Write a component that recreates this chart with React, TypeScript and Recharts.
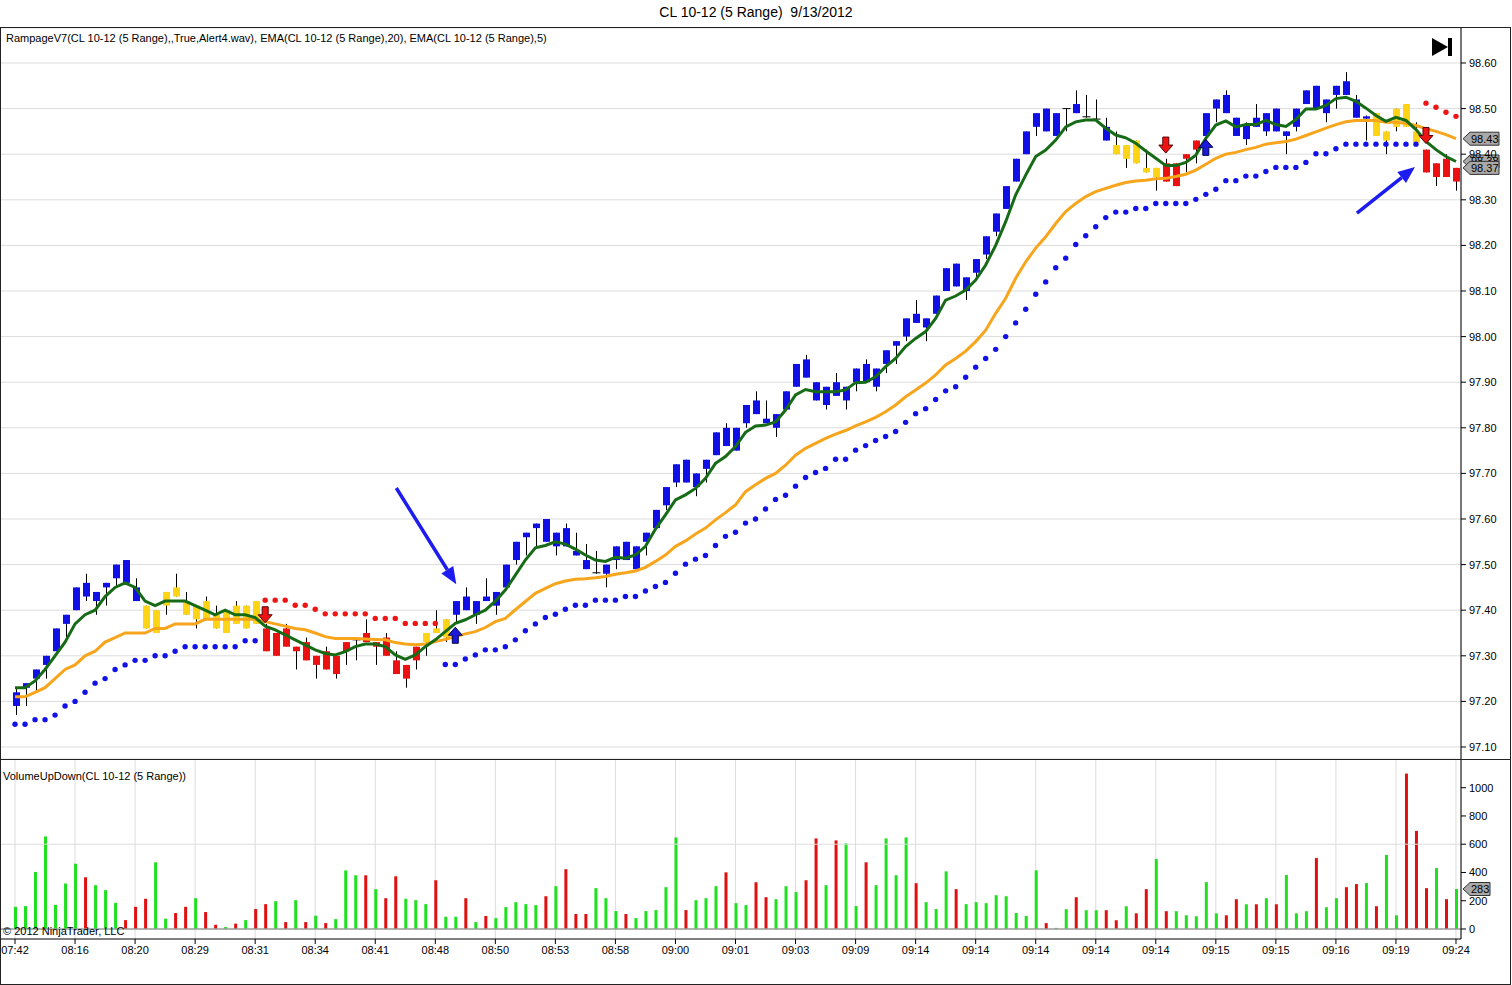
import React from 'react';
import {
  ComposedChart,
  Bar,
  Line,
  XAxis,
  YAxis,
  CartesianGrid,
  ReferenceLine,
  Cell,
} from 'recharts';

const FONT = '"Liberation Sans", Arial, sans-serif';

// time labels, one every 6 range bars
const timeLabels = [
  '07:42', '08:16', '08:20', '08:29', '08:31', '08:34', '08:41', '08:48', '08:50',
  '08:53', '08:58', '09:00', '09:01', '09:03', '09:09', '09:14', '09:14', '09:14',
  '09:14', '09:14', '09:15', '09:15', '09:16', '09:19', '09:24',
];

const priceTicks = [97.1, 97.2, 97.3, 97.4, 97.5, 97.6, 97.7, 97.8, 97.9, 98.0, 98.1, 98.2, 98.3, 98.4, 98.5, 98.6];
const volumeTicks = [0, 200, 400, 600, 800, 1000];

// 5-tick range bars (CL 10-12)
const barOpen = [
  97.19, 97.23, 97.25, 97.28, 97.31, 97.37, 97.40, 97.46, 97.42, 97.45,
  97.47, 97.51, 97.45, 97.41, 97.35, 97.41, 97.45, 97.42, 97.38, 97.42,
  97.39, 97.35, 97.41, 97.36, 97.42, 97.36, 97.30, 97.36, 97.31, 97.33,
  97.28, 97.31, 97.26, 97.31, 97.333, 97.35, 97.32, 97.34, 97.29, 97.25,
  97.29, 97.33, 97.36, 97.34, 97.39, 97.43, 97.39, 97.43, 97.41, 97.45,
  97.51, 97.56, 97.58, 97.60, 97.54, 97.58, 97.53, 97.51, 97.48, 97.48,
  97.51, 97.55, 97.49, 97.55, 97.58, 97.63, 97.68, 97.73, 97.67, 97.71,
  97.74, 97.80, 97.75, 97.81, 97.86, 97.82, 97.80, 97.84, 97.89, 97.95,
  97.90, 97.85, 97.90, 97.86, 97.90, 97.94, 97.89, 97.94, 97.98, 98.00,
  98.05, 98.02, 98.05, 98.10, 98.16, 98.10, 98.14, 98.18, 98.23, 98.28,
  98.34, 98.40, 98.46, 98.50, 98.44, 98.498, 98.51, 98.48, 98.475, 98.46,
  98.42, 98.39, 98.43, 98.37, 98.35, 98.38, 98.33, 98.39, 98.41, 98.44,
  98.50, 98.53, 98.48, 98.433, 98.48, 98.45, 98.50, 98.44, 98.46, 98.51,
  98.55, 98.49, 98.53, 98.56, 98.52, 98.478, 98.49, 98.43, 98.46, 98.51,
  98.45, 98.41, 98.35, 98.39, 98.34,
];
const barHigh = [
  97.23, 97.24, 97.27, 97.30, 97.36, 97.39, 97.45, 97.48, 97.44, 97.46,
  97.50, 97.51, 97.47, 97.41, 97.40, 97.44, 97.48, 97.44, 97.41, 97.43,
  97.41, 97.40, 97.42, 97.41, 97.42, 97.37, 97.35, 97.37, 97.32, 97.34,
  97.30, 97.32, 97.30, 97.33, 97.34, 97.38, 97.33, 97.35, 97.31, 97.28,
  97.32, 97.35, 97.40, 97.38, 97.42, 97.45, 97.42, 97.47, 97.44, 97.50,
  97.55, 97.57, 97.59, 97.60, 97.57, 97.59, 97.57, 97.545, 97.53, 97.50,
  97.54, 97.55, 97.54, 97.57, 97.62, 97.67, 97.72, 97.73, 97.70, 97.73,
  97.79, 97.81, 97.80, 97.85, 97.88, 97.86, 97.83, 97.88, 97.94, 97.96,
  97.90, 97.89, 97.92, 97.89, 97.93, 97.95, 97.93, 97.97, 97.99, 98.04,
  98.08, 98.04, 98.09, 98.15, 98.16, 98.13, 98.17, 98.22, 98.27, 98.33,
  98.39, 98.45, 98.49, 98.50, 98.49, 98.50, 98.54, 98.53, 98.52, 98.48,
  98.45, 98.42, 98.43, 98.41, 98.37, 98.39, 98.38, 98.40, 98.43, 98.49,
  98.52, 98.54, 98.48, 98.47, 98.51, 98.49, 98.50, 98.45, 98.50, 98.54,
  98.55, 98.52, 98.55, 98.58, 98.53, 98.485, 98.49, 98.45, 98.50, 98.51,
  98.47, 98.41, 98.38, 98.40, 98.37,
];
const barLow = [
  97.17, 97.19, 97.22, 97.25, 97.31, 97.34, 97.40, 97.42, 97.39, 97.41,
  97.45, 97.46, 97.42, 97.36, 97.35, 97.39, 97.43, 97.39, 97.36, 97.38,
  97.36, 97.35, 97.37, 97.36, 97.37, 97.31, 97.30, 97.32, 97.27, 97.29,
  97.25, 97.27, 97.25, 97.28, 97.29, 97.33, 97.28, 97.30, 97.26, 97.23,
  97.27, 97.30, 97.35, 97.33, 97.37, 97.40, 97.37, 97.42, 97.39, 97.45,
  97.50, 97.52, 97.54, 97.55, 97.52, 97.54, 97.52, 97.49, 97.48, 97.45,
  97.49, 97.51, 97.49, 97.52, 97.58, 97.62, 97.67, 97.68, 97.65, 97.68,
  97.74, 97.76, 97.75, 97.80, 97.83, 97.81, 97.78, 97.84, 97.89, 97.91,
  97.86, 97.84, 97.87, 97.84, 97.88, 97.90, 97.88, 97.92, 97.94, 97.99,
  98.03, 97.99, 98.05, 98.10, 98.11, 98.08, 98.13, 98.17, 98.22, 98.28,
  98.34, 98.40, 98.44, 98.45, 98.44, 98.45, 98.49, 98.48, 98.475, 98.43,
  98.40, 98.37, 98.38, 98.36, 98.32, 98.34, 98.33, 98.36, 98.38, 98.44,
  98.47, 98.49, 98.44, 98.42, 98.46, 98.44, 98.45, 98.40, 98.45, 98.51,
  98.50, 98.47, 98.50, 98.53, 98.48, 98.43, 98.44, 98.40, 98.45, 98.46,
  98.425, 98.36, 98.33, 98.35, 98.32,
];
const barClose = [
  97.22, 97.24, 97.27, 97.30, 97.36, 97.39, 97.45, 97.43, 97.44, 97.46,
  97.50, 97.46, 97.42, 97.36, 97.40, 97.44, 97.43, 97.39, 97.41, 97.38,
  97.36, 97.40, 97.37, 97.41, 97.37, 97.31, 97.35, 97.32, 97.32, 97.29,
  97.30, 97.27, 97.30, 97.33, 97.335, 97.33, 97.33, 97.30, 97.26, 97.28,
  97.32, 97.35, 97.35, 97.38, 97.42, 97.40, 97.42, 97.42, 97.44, 97.50,
  97.55, 97.57, 97.59, 97.55, 97.57, 97.54, 97.52, 97.49, 97.482, 97.50,
  97.54, 97.51, 97.54, 97.57, 97.62, 97.67, 97.72, 97.68, 97.70, 97.73,
  97.79, 97.76, 97.80, 97.85, 97.83, 97.81, 97.83, 97.88, 97.94, 97.91,
  97.86, 97.89, 97.87, 97.89, 97.93, 97.90, 97.93, 97.97, 97.99, 98.04,
  98.03, 98.04, 98.09, 98.15, 98.11, 98.13, 98.17, 98.22, 98.27, 98.33,
  98.39, 98.45, 98.49, 98.45, 98.49, 98.50, 98.49, 98.482, 98.477, 98.43,
  98.40, 98.42, 98.38, 98.36, 98.37, 98.34, 98.38, 98.40, 98.43, 98.49,
  98.52, 98.49, 98.44, 98.465, 98.46, 98.49, 98.45, 98.45, 98.50, 98.54,
  98.50, 98.52, 98.55, 98.53, 98.48, 98.483, 98.44, 98.45, 98.50, 98.46,
  98.425, 98.36, 98.38, 98.35, 98.37,
];
// Rampage trend colour per bar: B = up, Y = neutral, R = down
const barTrend = (
  'BBBBB BBBBB BBBYY YYYYY YYYYY RRRRR RRRRR RRRRR RYYYB BBBBB ' +
  'BBBBB BBBBB BBBBB BBBBB BBBBB BBBBB BBBBB BBBBB BBBBB BBBBB ' +
  'BBBBB BBBBB YYYYY RRRRB BBBBB BBBBB BBBBB BYYYY YRRRR'
).replace(/ /g, '');

const ema5 = [
  97.23, 97.23, 97.245, 97.27, 97.30, 97.33, 97.37, 97.39, 97.40, 97.43,
  97.45, 97.46, 97.45, 97.42, 97.41, 97.42, 97.42, 97.42, 97.41, 97.40,
  97.39, 97.40, 97.39, 97.39, 97.384, 97.365, 97.357, 97.346, 97.335, 97.324,
  97.313, 97.305, 97.302, 97.309, 97.32, 97.326, 97.326, 97.32, 97.302, 97.292,
  97.302, 97.32, 97.335, 97.353, 97.371, 97.379, 97.39, 97.40, 97.42, 97.444,
  97.477, 97.51, 97.537, 97.542, 97.55, 97.545, 97.534, 97.521, 97.51, 97.507,
  97.516, 97.514, 97.521, 97.54, 97.578, 97.609, 97.642, 97.653, 97.667, 97.689,
  97.722, 97.737, 97.759, 97.79, 97.804, 97.806, 97.813, 97.839, 97.872, 97.884,
  97.879, 97.879, 97.879, 97.883, 97.899, 97.90, 97.912, 97.934, 97.952, 97.978,
  97.996, 98.011, 98.04, 98.08, 98.089, 98.102, 98.124, 98.157, 98.20, 98.252,
  98.311, 98.354, 98.395, 98.409, 98.431, 98.46, 98.471, 98.475, 98.475, 98.457,
  98.442, 98.436, 98.424, 98.407, 98.391, 98.375, 98.375, 98.382, 98.398, 98.435,
  98.464, 98.473, 98.46, 98.465, 98.465, 98.474, 98.465, 98.461, 98.476, 98.499,
  98.499, 98.507, 98.522, 98.525, 98.516, 98.501, 98.485, 98.472, 98.481, 98.474,
  98.454, 98.428, 98.41, 98.395, 98.384,
];
const ema20 = [
  97.21, 97.21, 97.22, 97.23, 97.25, 97.27, 97.28, 97.30, 97.31, 97.33,
  97.34, 97.35, 97.35, 97.35, 97.36, 97.36, 97.37, 97.37, 97.37, 97.38,
  97.38, 97.38, 97.38, 97.38, 97.38, 97.375, 97.37, 97.365, 97.36, 97.357,
  97.35, 97.342, 97.338, 97.338, 97.338, 97.337, 97.336, 97.335, 97.329, 97.326,
  97.324, 97.326, 97.331, 97.336, 97.342, 97.348, 97.353, 97.362, 97.375, 97.382,
  97.401, 97.419, 97.437, 97.448, 97.458, 97.464, 97.468, 97.469, 97.471, 97.474,
  97.479, 97.482, 97.486, 97.494, 97.507, 97.521, 97.54, 97.552, 97.567, 97.58,
  97.598, 97.614, 97.631, 97.66, 97.675, 97.689, 97.70, 97.718, 97.74, 97.755,
  97.766, 97.777, 97.786, 97.794, 97.804, 97.813, 97.823, 97.835, 97.85, 97.868,
  97.883, 97.898, 97.916, 97.938, 97.952, 97.968, 97.989, 98.014, 98.051, 98.084,
  98.128, 98.164, 98.194, 98.219, 98.248, 98.274, 98.292, 98.307, 98.318, 98.325,
  98.332, 98.338, 98.341, 98.343, 98.346, 98.347, 98.351, 98.356, 98.365, 98.378,
  98.391, 98.40, 98.404, 98.41, 98.415, 98.422, 98.425, 98.428, 98.433, 98.441,
  98.449, 98.457, 98.465, 98.471, 98.474, 98.474, 98.474, 98.47, 98.47, 98.468,
  98.463, 98.456, 98.45, 98.443, 98.434,
];
// trailing stop dots: blue under price in uptrend, red above in downtrend
const stopLong = [
  97.15, 97.15, 97.16, 97.16, 97.17, 97.19, 97.20, 97.22, 97.24, 97.25,
  97.27, 97.28, 97.29, 97.29, 97.30, 97.30, 97.31, 97.32, 97.32, 97.32,
  97.32, 97.32, 97.32, 97.333, 97.333, null, null, null, null, null,
  null, null, null, null, null, null, null, null, null, null,
  null, null, null, 97.281, 97.281, 97.293, 97.302, 97.313, 97.313, 97.32,
  97.335, 97.355, 97.37, 97.384, 97.391, 97.402, 97.411, 97.411, 97.422, 97.422,
  97.422, 97.43, 97.43, 97.442, 97.452, 97.461, 97.481, 97.501, 97.512, 97.52,
  97.542, 97.562, 97.571, 97.591, 97.60, 97.622, 97.643, 97.652, 97.672, 97.691,
  97.702, 97.711, 97.731, 97.731, 97.751, 97.761, 97.772, 97.781, 97.792, 97.812,
  97.831, 97.842, 97.862, 97.881, 97.89, 97.911, 97.933, 97.952, 97.972, 98.00,
  98.03, 98.06, 98.093, 98.12, 98.151, 98.172, 98.202, 98.221, 98.241, 98.261,
  98.273, 98.273, 98.281, 98.281, 98.292, 98.292, 98.292, 98.292, 98.301, 98.312,
  98.323, 98.342, 98.342, 98.352, 98.352, 98.362, 98.371, 98.371, 98.371, 98.382,
  98.401, 98.401, 98.412, 98.422, 98.422, 98.422, 98.422, 98.422, 98.422, 98.422,
  98.422, null, null, null, null,
];
const stopShort = [
  null, null, null, null, null, null, null, null, null, null,
  null, null, null, null, null, null, null, null, null, null,
  null, null, null, null, null, 97.422, 97.422, 97.422, 97.411, 97.411,
  97.402, 97.392, 97.392, 97.392, 97.392, 97.392, 97.382, 97.382, 97.382, 97.371,
  97.371, 97.371, 97.371, null, null, null, null, null, null, null,
  null, null, null, null, null, null, null, null, null, null,
  null, null, null, null, null, null, null, null, null, null,
  null, null, null, null, null, null, null, null, null, null,
  null, null, null, null, null, null, null, null, null, null,
  null, null, null, null, null, null, null, null, null, null,
  null, null, null, null, null, null, null, null, null, null,
  null, null, null, null, null, null, null, null, null, null,
  null, null, null, null, null, null, null, null, null, null,
  null, null, null, null, null, null, null, null, null, null,
  null, 98.512, 98.503, 98.492, 98.483,
];

const volume = [
  157, 162, 404, 655, 171, 322, 462, 366, 310, 275,
  185, 63, 157, 214, 472, 73, 113, 157, 218, 120,
  30, 14, 38, 63, 141, 176, 197, 49, 204, 49,
  94, 42, 70, 415, 380, 380, 282, 218, 373, 214,
  204, 176, 345, 87, 87, 218, 49, 92, 77, 155,
  190, 176, 169, 232, 303, 423, 106, 106, 289, 218,
  127, 106, 77, 127, 134, 296, 648, 134, 204, 218,
  303, 401, 183, 169, 331, 225, 211, 303, 261, 345,
  641, 310, 627, 606, 162, 472, 310, 641, 380, 648,
  324, 190, 141, 408, 282, 176, 190, 183, 239, 232,
  113, 92, 415, 42, 8, 140, 225, 133, 133, 133,
  62, 161, 111, 282, 495, 126, 126, 97, 90, 332,
  111, 97, 211, 175, 175, 218, 175, 382, 111, 126,
  502, 154, 218, 296, 318, 325, 161, 524, 97, 1100,
  694, 289, 431, 211, 283,
];
// G = up volume, R = down volume
const volumeSide = (
  'GGGGG GGRGG GRRRG GRRGR RGRGR RGRGR GRGGG RGRRG GGRGG RGRGG ' +
  'GGGRG RRRGG GRGGG GGRGG GRGGR RGGGR RGRGG RGGGG RGGGR GGGGG ' +
  'GGGRG GRGGR RGRRG RGGGG GRRGR GRGGG RGGRR GRGGR RRGRG'
).replace(/ /g, '');

// Rampage entry signals
const sellBars = [25, 115, 141];
const sellLevels = [97.39, 98.42, 98.441];
const buyBars = [44, 119];
const buyLevels = [97.345, 98.415];

// hand-drawn arrows on the chart (bar index / price)
const noteFromBar = [38.1, 134.1];
const noteFromPrice = [97.668, 98.271];
const noteToBar = [44.1, 139.9];
const noteToPrice = [97.457, 98.372];

const TREND_COLOR: Record<string, string> = { B: '#0f0fe6', Y: '#ffd414', R: '#ec1010' };
const VOL_UP = '#1fe01f';
const VOL_DOWN = '#e01010';
const GRID = '#dcdcdc';

const rows = barOpen.map((open, i) => ({
  i,
  open,
  high: barHigh[i],
  low: barLow[i],
  close: barClose[i],
  range: [barLow[i], barHigh[i]],
  trend: barTrend[i],
  ema5: ema5[i],
  ema20: ema20[i],
  stopLong: stopLong[i],
  stopShort: stopShort[i],
  sell: sellBars.indexOf(i) >= 0 ? sellLevels[sellBars.indexOf(i)] : null,
  buy: buyBars.indexOf(i) >= 0 ? buyLevels[buyBars.indexOf(i)] : null,
  volume: volume[i],
  side: volumeSide[i],
}));

const xTicks = timeLabels.map((_, k) => k * 6);
const X_DOMAIN = [-1.5, 144.5];
const last = rows.length - 1;

const Candle = (props: any) => {
  const { x, y, width, height, payload } = props;
  if (x == null || payload == null) return <g />;
  const { open, close, high, low, trend } = payload;
  const h = Math.abs(height);
  const top = Math.min(y, y + height);
  const ppu = h / (high - low);
  const cx = Math.round(x + width / 2) + 0.5;
  const bodyTop = top + (high - Math.max(open, close)) * ppu;
  const bodyH = Math.abs(open - close) * ppu;
  return (
    <g>
      <line x1={cx} x2={cx} y1={top} y2={top + h} stroke="#000" strokeWidth={1} />
      {bodyH < 1.5 ? (
        <line x1={cx - 4} x2={cx + 4} y1={bodyTop} y2={bodyTop} stroke="#000" strokeWidth={1} />
      ) : (
        <rect x={cx - 3.5} y={bodyTop} width={7} height={bodyH} fill={TREND_COLOR[trend]} />
      )}
    </g>
  );
};

const SellArrow = (props: any) => {
  const { cx, cy, value, index } = props;
  if (value == null || cy == null) return <g key={index} />;
  const pts = [
    [cx - 3, cy - 8], [cx + 3, cy - 8], [cx + 3, cy], [cx + 7, cy],
    [cx, cy + 8], [cx - 7, cy], [cx - 3, cy],
  ].map((p) => p.join(',')).join(' ');
  return <polygon key={index} points={pts} fill="#ee1414" stroke="#5a0000" strokeWidth={1} />;
};

const BuyArrow = (props: any) => {
  const { cx, cy, value, index } = props;
  if (value == null || cy == null) return <g key={index} />;
  const pts = [
    [cx - 3, cy + 8], [cx + 3, cy + 8], [cx + 3, cy], [cx + 7, cy],
    [cx, cy - 8], [cx - 7, cy], [cx - 3, cy],
  ].map((p) => p.join(',')).join(' ');
  return <polygon key={index} points={pts} fill="#1a1ad8" stroke="#000050" strokeWidth={1} />;
};

const NoteArrow = (props: any) => {
  const { x1, y1, x2, y2 } = props;
  if (x1 == null || x2 == null) return <g />;
  const ang = Math.atan2(y2 - y1, x2 - x1);
  const len = 17;
  const half = 7;
  const bx = x2 - len * Math.cos(ang);
  const by = y2 - len * Math.sin(ang);
  const px = -Math.sin(ang) * half;
  const py = Math.cos(ang) * half;
  return (
    <g>
      <line x1={x1} y1={y1} x2={bx} y2={by} stroke="#1c1cf0" strokeWidth={3.5} />
      <polygon points={`${x2},${y2} ${bx + px},${by + py} ${bx - px},${by - py}`} fill="#1c1cf0" />
    </g>
  );
};

const ValueTag = (props: any) => {
  const vb = props.viewBox;
  if (!vb) return <g />;
  const x = vb.x + vb.width + 2;
  const y = vb.y;
  const w = props.w || 36;
  return (
    <g>
      <polygon
        points={`${x},${y} ${x + 7},${y - 6.5} ${x + w},${y - 6.5} ${x + w},${y + 6.5} ${x + 7},${y + 6.5}`}
        fill="#a9a9a9"
        stroke="#333"
        strokeWidth={1}
      />
      <text x={x + 8} y={y + 4} fontSize={11} fill="#000" fontFamily={FONT}>
        {props.text}
      </text>
    </g>
  );
};

const PriceChart = () => (
  <ComposedChart width={1512} height={731} data={rows} margin={{ top: 0, right: 0, bottom: 0, left: 0 }}>
    <CartesianGrid stroke={GRID} />
    <XAxis
      dataKey="i"
      type="number"
      domain={X_DOMAIN}
      ticks={xTicks}
      height={0}
      tick={false}
      axisLine={false}
      tickLine={false}
    />
    <YAxis
      orientation="right"
      width={51}
      type="number"
      domain={[97.07368, 98.67675]}
      allowDataOverflow
      ticks={priceTicks}
      tickFormatter={(v: number) => v.toFixed(2)}
      tick={{ fontSize: 11, fill: '#000', fontFamily: FONT }}
      tickSize={5}
      tickMargin={3}
      axisLine={{ stroke: '#000' }}
      tickLine={{ stroke: '#000' }}
    />
    <Line dataKey="stopLong" stroke="none" dot={{ r: 2.7, fill: '#1212e8', stroke: 'none' }} activeDot={false} isAnimationActive={false} />
    <Line dataKey="stopShort" stroke="none" dot={{ r: 2.7, fill: '#ee1515', stroke: 'none' }} activeDot={false} isAnimationActive={false} />
    <Line type="linear" dataKey="ema20" stroke="#f7a51c" strokeWidth={3} dot={false} activeDot={false} isAnimationActive={false} />
    <Bar dataKey="range" barSize={7} shape={(p: any) => <Candle {...p} />} isAnimationActive={false} />
    <Line type="linear" dataKey="ema5" stroke="#176b17" strokeWidth={3} dot={false} activeDot={false} isAnimationActive={false} />
    <Line dataKey="sell" stroke="none" dot={(p: any) => <SellArrow {...p} />} activeDot={false} isAnimationActive={false} />
    <Line dataKey="buy" stroke="none" dot={(p: any) => <BuyArrow {...p} />} activeDot={false} isAnimationActive={false} />
    {noteFromBar.map((b, k) => (
      <ReferenceLine
        key={`note-${k}`}
        segment={[{ x: b, y: noteFromPrice[k] }, { x: noteToBar[k], y: noteToPrice[k] }]}
        shape={(p: any) => <NoteArrow {...p} />}
        ifOverflow="visible"
      />
    ))}
    <ReferenceLine y={ema20[last]} stroke="none" label={(p: any) => <ValueTag {...p} text={ema20[last].toFixed(2)} />} />
    <ReferenceLine y={ema5[last]} stroke="none" label={(p: any) => <ValueTag {...p} text={ema5[last].toFixed(2)} />} />
    <ReferenceLine y={barClose[last]} stroke="none" label={(p: any) => <ValueTag {...p} text={barClose[last].toFixed(2)} />} />
  </ComposedChart>
);

const VolumeChart = () => (
  <ComposedChart width={1512} height={209} data={rows} margin={{ top: 0, right: 0, bottom: 0, left: 0 }}>
    <CartesianGrid stroke={GRID} horizontal={false} />
    <XAxis
      dataKey="i"
      type="number"
      domain={X_DOMAIN}
      ticks={xTicks}
      height={30}
      interval={0}
      tickFormatter={(v: number) => timeLabels[Math.round(v / 6)]}
      tick={{ fontSize: 11, fill: '#000', fontFamily: FONT }}
      tickSize={5}
      tickMargin={2}
      axisLine={{ stroke: '#000' }}
      tickLine={{ stroke: '#000' }}
    />
    <YAxis
      orientation="right"
      width={51}
      type="number"
      domain={[-70.8, 1196]}
      allowDataOverflow
      ticks={volumeTicks}
      interval={0}
      tick={{ fontSize: 11, fill: '#000', fontFamily: FONT }}
      tickSize={5}
      tickMargin={3}
      axisLine={{ stroke: '#000' }}
      tickLine={{ stroke: '#000' }}
    />
    <ReferenceLine y={600} stroke={GRID} />
    <ReferenceLine y={0} stroke="#9a9a9a" strokeWidth={1.5} />
    <Bar dataKey="volume" barSize={3} isAnimationActive={false}>
      {rows.map((r) => (
        <Cell key={r.i} fill={r.side === 'G' ? VOL_UP : VOL_DOWN} />
      ))}
    </Bar>
    <ReferenceLine y={volume[last]} stroke="none" label={(p: any) => <ValueTag {...p} text={String(volume[last])} w={27} />} />
  </ComposedChart>
);

const abs = (left: number, top: number, extra: React.CSSProperties = {}): React.CSSProperties => ({
  position: 'absolute',
  left,
  top,
  ...extra,
});

export default function App() {
  return (
    <div style={{ position: 'absolute', left: 0, top: 0, width: 1512, height: 985, background: '#fff', fontFamily: FONT, overflow: 'hidden' }}>
      <div style={abs(0, 4, { width: 1512, textAlign: 'center', fontSize: 14, whiteSpace: 'pre', color: '#000' })}>
        {'CL 10-12 (5 Range)  9/13/2012'}
      </div>

      <div style={abs(0, 28)}>
        <PriceChart />
      </div>
      <div style={abs(0, 760)}>
        <VolumeChart />
      </div>

      {/* panel frames */}
      <div style={abs(0, 27, { width: 1511, height: 958, border: '1px solid #222', boxSizing: 'border-box', pointerEvents: 'none' })} />
      <div style={abs(0, 759, { width: 1511, height: 1, background: '#222' })} />

      <div style={abs(6, 32, { fontSize: 11, color: '#000', whiteSpace: 'pre' })}>
        RampageV7(CL 10-12 (5 Range),,True,Alert4.wav), EMA(CL 10-12 (5 Range),20), EMA(CL 10-12 (5 Range),5)
      </div>
      <div style={abs(3, 770, { fontSize: 11, color: '#000', whiteSpace: 'pre' })}>VolumeUpDown(CL 10-12 (5 Range))</div>
      <div style={abs(3, 925, { fontSize: 11, color: '#000', whiteSpace: 'pre' })}>© 2012 NinjaTrader, LLC</div>

      <svg style={abs(1430, 36)} width={26} height={24}>
        <polygon points="2,2 18,11 2,20" fill="#000" />
        <rect x={18} y={2} width={4} height={18} fill="#000" />
      </svg>
    </div>
  );
}
